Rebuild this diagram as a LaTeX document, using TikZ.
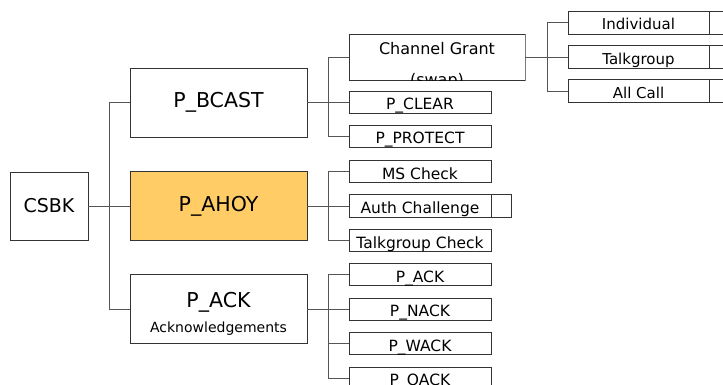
\documentclass[tikz,border=0pt]{standalone}
\usepackage{fontspec}
\setmainfont{DejaVu Sans}
\usetikzlibrary{positioning}
\definecolor{csbkLine}{HTML}{333333}
\definecolor{csbkLink}{HTML}{555555}
\definecolor{csbkAmber}{HTML}{FFCC66}
\tikzset{
  csbk diagram/.style={
    x=1pt, y=-1pt, line width=0.9pt,
    every node/.style={inner sep=0pt, outer sep=0pt, text=black}
  },
  csbk box/.style={draw=csbkLine, fill=white, align=center},
  root box/.style={csbk box, minimum width=78pt, minimum height=68pt,
    font=\fontsize{19}{22}\selectfont},
  type box/.style={csbk box, minimum width=177pt, minimum height=69pt,
    font=\fontsize{20.5}{24}\selectfont},
  op box/.style={csbk box, minimum width=142pt, text height=18.5pt,
    text depth=3.5pt, font=\fontsize{15.5}{18}\selectfont},
  leaf box/.style={csbk box, minimum width=141pt, text height=19pt,
    text depth=4pt, font=\fontsize{15}{18}\selectfont},
  tail box/.style={draw=csbkLine, fill=white, minimum width=20pt,
    minimum height=#1},
  csbk link/.style={draw=csbkLink}
}
\newcommand{\CsbkFan}[3]{%
  \draw[csbk link] (#1.west) -| (#3 |- #2.west) -- (#2.west);
}

\begin{document}
\begin{tikzpicture}[csbk diagram]
    \clip (0,0) rectangle (723,385);
    \coordinate (trunk) at (109,0);
    \coordinate (bus) at (328,0);
    \coordinate (bus3) at (547,0);
    % first level
    \node[root box] (csbk) at (49,206) {CSBK};
    \node[type box] (bcast) at (218.5,102.5) {P\_BCAST};
    \node[type box, fill=csbkAmber] (ahoy) at (218.5,206) {P\_AHOY};
    \node[type box, text height=57pt, text depth=11pt] (ack) at (218.5,309)
      {P\_ACK\\[1pt]{\fontsize{14}{16}\selectfont Acknowledgements}};
    % second level
    \begin{scope}
      \clip (348.5,33.5) rectangle (525.5,80.5);
      \node[csbk box, minimum width=176pt, text height=58pt, text depth=0pt,
        inner ysep=-6pt, font=\fontsize{16}{31}\selectfont] (grant) at (437,57)
        {Channel Grant\\(swap)};
    \end{scope}
    \node[op box] (clear) at (420,102.5) {P\_CLEAR};
    \node[op box] (protect) at (420,136.5) {P\_PROTECT};
    \node[op box] (mscheck) at (420,171.5) {MS Check};
    \node[op box, minimum height=23pt] (auth) at (420,206) {Auth Challenge};
    \node[tail box=23pt, right=0pt of auth] (authx) {};
    \node[op box] (tgcheck) at (420,240.5) {Talkgroup Check};
    \node[op box] (pack) at (420,274.5) {P\_ACK};
    \node[op box] (nack) at (420,309) {P\_NACK};
    \node[op box] (wack) at (420,343.5) {P\_WACK};
    \node[op box] (qack) at (420,378) {P\_QACK};
    % third level
    \node[leaf box] (indiv) at (638.5,22.5) {Individual};
    \node[leaf box] (tgroup) at (638.5,57) {Talkgroup};
    \node[leaf box] (allcall) at (638.5,91) {All Call};
    \node[tail box=23pt, right=0pt of indiv] (indivx) {};
    \node[tail box=23pt, right=0pt of tgroup] (tgroupx) {};
    \node[tail box=23pt, right=0pt of allcall] (allcallx) {};
    % connectors
    \draw[csbk link] (csbk) -- (ahoy);
    \CsbkFan{bcast}{ack}{trunk}
    \draw[csbk link] (bcast) -- (clear);
    \CsbkFan{grant}{protect}{bus}
    \draw[csbk link] (ahoy) -- (auth);
    \CsbkFan{mscheck}{tgcheck}{bus}
    \draw[csbk link] (ack) -- (nack);
    \CsbkFan{pack}{qack}{bus}
    \draw[csbk link] (wack.west) -- (wack.west -| bus);
    \draw[csbk link] (grant) -- (tgroup);
    \CsbkFan{indiv}{allcall}{bus3}
\end{tikzpicture}
\end{document}
